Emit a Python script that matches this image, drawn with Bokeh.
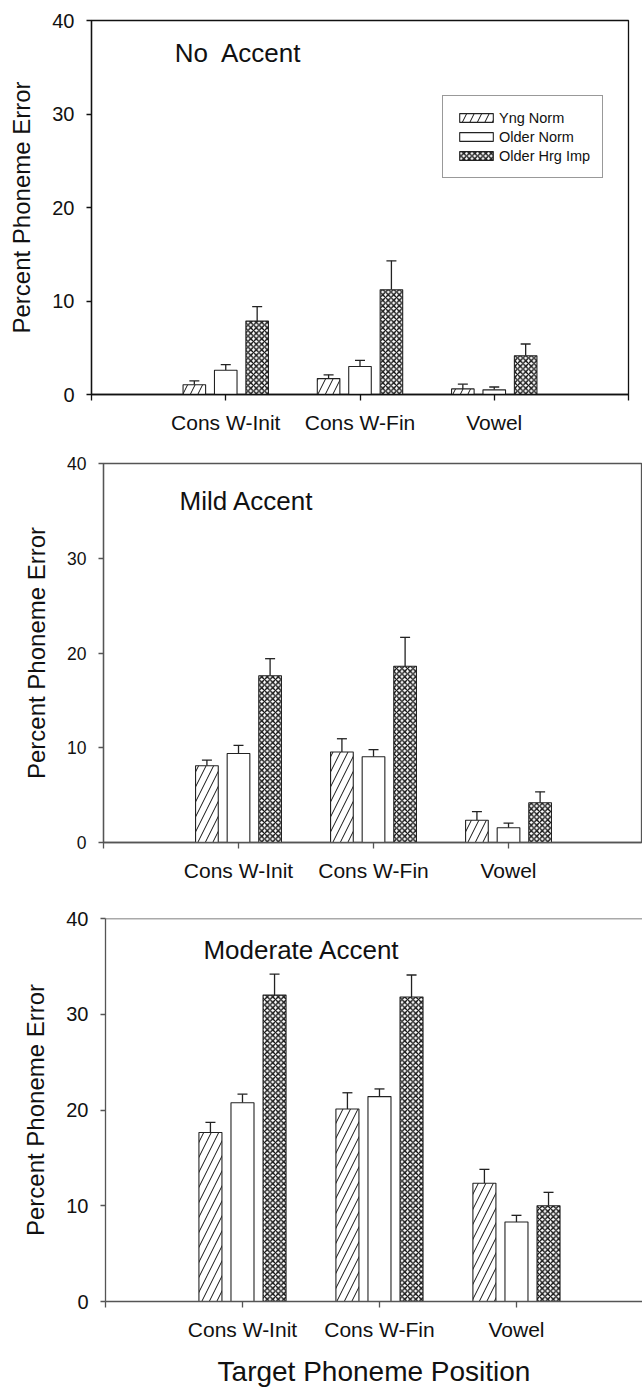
import numpy as np
from bokeh.plotting import figure
from bokeh.models import (ColumnDataSource, Whisker, TeeHead, Legend, LegendItem,
                          FixedTicker, Label, Range1d, Span)
from bokeh.embed import file_html
from bokeh.resources import INLINE

# ---------------- data ----------------
categories = ["Cons W-Init", "Cons W-Fin", "Vowel"]
groups = ["Yng Norm", "Older Norm", "Older Hrg Imp"]
panel_titles = ["No\u00a0 Accent", "Mild Accent", "Moderate Accent"]
y_title = "Percent Phoneme Error"
x_title = "Target Phoneme Position"
y_ticks = [0, 10, 20, 30, 40]

# No accent
no_yng = [1.05, 1.7, 0.6]
no_yng_se = [0.4, 0.4, 0.5]
no_old = [2.6, 3.0, 0.5]
no_old_se = [0.6, 0.65, 0.3]
no_hi = [7.85, 11.2, 4.15]
no_hi_se = [1.55, 3.1, 1.25]

# Mild accent
mild_yng = [8.1, 9.55, 2.35]
mild_yng_se = [0.6, 1.4, 0.9]
mild_old = [9.4, 9.05, 1.55]
mild_old_se = [0.85, 0.75, 0.5]
mild_hi = [17.6, 18.6, 4.2]
mild_hi_se = [1.8, 3.05, 1.15]

# Moderate accent
mod_yng = [17.65, 20.1, 12.35]
mod_yng_se = [1.05, 1.7, 1.45]
mod_old = [20.75, 21.4, 8.3]
mod_old_se = [0.9, 0.8, 0.7]
mod_hi = [32.0, 31.8, 10.0]
mod_hi_se = [2.2, 2.3, 1.4]

panels_data = [
    [(no_yng, no_yng_se), (no_old, no_old_se), (no_hi, no_hi_se)],
    [(mild_yng, mild_yng_se), (mild_old, mild_old_se), (mild_hi, mild_hi_se)],
    [(mod_yng, mod_yng_se), (mod_old, mod_old_se), (mod_hi, mod_hi_se)],
]

# ---------------- styling / layout ----------------
FONT = "Liberation Sans"
bar_w = 0.168
offsets = [-0.234, 0.0, 0.234]
styles = [
    dict(fill_color="white", hatch_pattern="/", hatch_scale=15, hatch_weight=1, hatch_color="#111"),
    dict(fill_color="white"),
    dict(fill_color="white", hatch_pattern="x", hatch_scale=5.5, hatch_weight=1.4, hatch_color="#111"),
]

layout = [
    dict(h=448, top=20, fh=374, left=91, fw=537, xend=4.0, axc="#111", tick_fs="20px",
         title_x=0.62, title_y=36.5, ylab_std=14, xlabel=False, legend=True, box=True),
    dict(h=452, top=15, fh=379, left=103, fw=538, xend=3.985, axc="#555", tick_fs="17.5px",
         title_x=0.563, title_y=36.0, ylab_std=14, xlabel=False, legend=False, box=True),
    dict(h=489, top=18, fh=383, left=105, fw=537, xend=3.92, axc="#555", tick_fs="20px",
         title_x=0.715, title_y=36.66, ylab_std=14, xlabel=True, legend=False, box=False),
]

figs = []
for k, cfg in enumerate(layout):
    p = figure(width=642, height=cfg["h"],
               output_backend="svg", toolbar_location=None,
               x_range=Range1d(0, cfg["xend"]), y_range=Range1d(0, 40),
               min_border_left=cfg["left"], min_border_top=cfg["top"],
               min_border_right=642 - cfg["left"] - cfg["fw"],
               min_border_bottom=cfg["h"] - cfg["top"] - cfg["fh"])
    p.xgrid.visible = False
    p.ygrid.visible = False
    p.background_fill_color = "white"
    p.border_fill_color = "white"
    if cfg["box"]:
        p.outline_line_color = cfg["axc"]
        p.outline_line_width = 1.3
    else:
        # only the top edge of the frame is visible (right edge lies outside the page)
        p.outline_line_color = None
        p.add_layout(Span(location=40, dimension="width", line_color=cfg["axc"],
                          line_width=1.3))

    items = []
    for g in range(3):
        vals, se = panels_data[k][g]
        xs = np.arange(1, len(categories) + 1) + offsets[g]
        src = ColumnDataSource(dict(x=xs, top=vals,
                                    upper=np.array(vals) + np.array(se)))
        r = p.vbar(x="x", top="top", bottom=0, width=bar_w, source=src,
                   line_color="#222", line_width=1.1, **styles[g])
        w = Whisker(base="x", lower="top", upper="upper", source=src,
                    dimension="height", line_color="#222", line_width=1.3,
                    lower_head=None,
                    upper_head=TeeHead(size=10, line_color="#222", line_width=1.3))
        p.add_layout(w)
        items.append(LegendItem(label=groups[g], renderers=[r]))

    if cfg["legend"]:
        leg = Legend(items=items, location=(351, 216), orientation="vertical",
                     glyph_width=42, glyph_height=11, label_height=19,
                     label_standoff=2, padding=12, spacing=0, margin=0,
                     label_text_font=FONT, label_text_font_size="14.5px",
                     label_text_color="#111",
                     border_line_color="#333", border_line_width=1.2,
                     background_fill_color="white", background_fill_alpha=1.0)
        p.add_layout(leg, "center")

    # axes
    p.yaxis.ticker = FixedTicker(ticks=y_ticks)
    p.yaxis.minor_tick_line_color = None
    p.yaxis.major_tick_in = 0
    p.yaxis.major_tick_out = 5
    p.yaxis.major_label_standoff = 12
    p.yaxis.major_label_text_font = FONT
    p.yaxis.major_label_text_font_size = cfg["tick_fs"]
    p.yaxis.major_label_text_color = "#111"
    p.yaxis.axis_line_color = cfg["axc"]
    p.yaxis.axis_line_width = 1.3
    p.yaxis.major_tick_line_color = cfg["axc"]
    p.yaxis.major_tick_line_width = 1.3
    p.yaxis.axis_label = y_title
    p.yaxis.axis_label_text_font = FONT
    p.yaxis.axis_label_text_font_size = "24px"
    p.yaxis.axis_label_text_font_style = "normal"
    p.yaxis.axis_label_text_color = "#111"
    p.yaxis.axis_label_standoff = cfg["ylab_std"]

    p.xaxis.ticker = FixedTicker(ticks=[1, 2, 3], minor_ticks=[0, 4])
    p.xaxis.major_label_overrides = {i + 1: c for i, c in enumerate(categories)}
    p.xaxis.major_tick_in = 0
    p.xaxis.major_tick_out = 6
    p.xaxis.minor_tick_in = 0
    p.xaxis.minor_tick_out = 6
    p.xaxis.major_label_standoff = 10
    p.xaxis.major_label_text_font = FONT
    p.xaxis.major_label_text_font_size = "21px"
    p.xaxis.major_label_text_color = "#111"
    p.xaxis.axis_line_color = cfg["axc"]
    p.xaxis.axis_line_width = 1.3
    p.xaxis.major_tick_line_color = cfg["axc"]
    p.xaxis.minor_tick_line_color = cfg["axc"]
    p.xaxis.major_tick_line_width = 1.3
    p.xaxis.minor_tick_line_width = 1.3
    if cfg["xlabel"]:
        p.xaxis.axis_label = x_title
        p.xaxis.axis_label_text_font = FONT
        p.xaxis.axis_label_text_font_size = "28px"
        p.xaxis.axis_label_text_font_style = "normal"
        p.xaxis.axis_label_text_color = "#111"
        p.xaxis.axis_label_standoff = 12

    p.add_layout(Label(x=cfg["title_x"], y=cfg["title_y"], text=panel_titles[k],
                       text_font=FONT, text_font_size="26px", text_color="#111",
                       text_baseline="alphabetic", text_align="left"))
    figs.append(p)

# each panel is its own root so that the frames are placed independently
open("out.html", "w").write(file_html(figs, INLINE))
